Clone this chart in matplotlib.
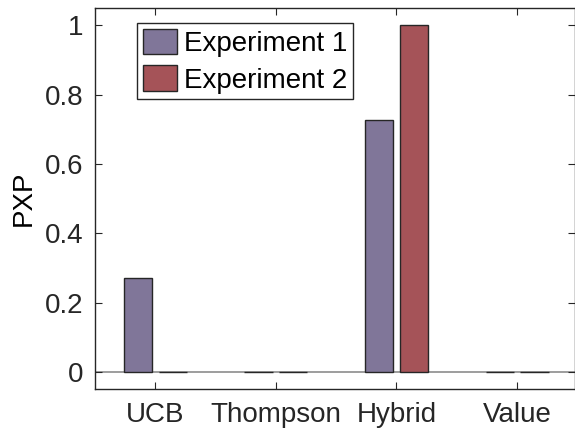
import numpy as np
import matplotlib.pyplot as plt

plt.rcParams["font.family"] = ["Liberation Sans", "DejaVu Sans"]

# data
models = ["UCB", "Thompson", "Hybrid", "Value"]
exp1 = [0.272, 0.0, 0.728, 0.0]
exp2 = [0.0, 0.0, 1.0, 0.0]

c1 = "#807699"
c2 = "#a55358"
edge = "#262626"
fs = 20

fig = plt.figure(figsize=(5.75, 4.29), dpi=100)
ax = fig.add_axes([0.165, 0.093, 0.835, 0.888])

x = np.arange(1, len(models) + 1)
off = 0.144
w = 0.233
ax.axhline(0, color="#8c8c8c", lw=1.2, zorder=1)
ax.bar(x - off, exp1, w, color=c1, edgecolor=edge, lw=1.0, label="Experiment 1", zorder=2)
ax.bar(x + off, exp2, w, color=c2, edgecolor=edge, lw=1.0, label="Experiment 2", zorder=2)

ax.set_xlim(0.5, 4.48)
ax.set_ylim(-0.05, 1.05)
ax.set_xticks(x)
ax.set_xticklabels(models)
ax.set_yticks([0, 0.2, 0.4, 0.6, 0.8, 1])
ax.set_yticklabels(["0", "0.2", "0.4", "0.6", "0.8", "1"])
ax.set_ylabel("PXP", fontsize=fs, labelpad=6)

ax.tick_params(direction="in", length=5, width=0.8, colors=edge, labelsize=fs,
               top=True, right=True, pad=8)
ax.tick_params(axis="x", pad=9)
for s in ax.spines.values():
    s.set_color(edge)
    s.set_linewidth(1.0)

leg = ax.legend(loc="upper left", bbox_to_anchor=(137 / 575, 1 - 23 / 429),
                bbox_transform=fig.transFigure, fontsize=fs, frameon=True,
                fancybox=False, edgecolor=edge, framealpha=1,
                handlelength=1.25, handleheight=1.05, handletextpad=0.25,
                labelspacing=0.3, borderpad=0.2, borderaxespad=0)
leg.get_frame().set_linewidth(1.0)

fig.savefig("out.png", dpi=100)
